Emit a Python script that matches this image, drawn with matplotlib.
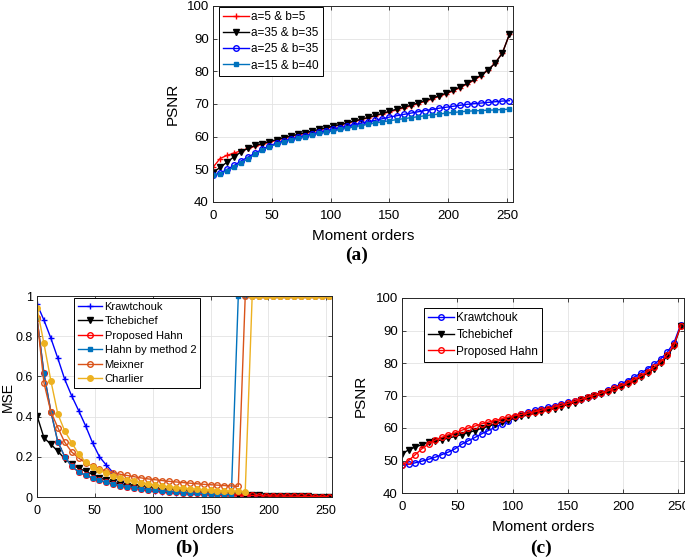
import matplotlib
matplotlib.use("Agg")
import matplotlib.pyplot as plt

plt.rcParams['font.family'] = ['Liberation Sans', 'DejaVu Sans']

# ---------------- data ----------------
orders = list(range(0, 253, 6))

# (a) PSNR for different Hahn parameters
psnr_a5_b5 = [50.6, 53.3, 54.3, 55.0, 55.7, 56.4, 57.1, 57.7, 58.3, 58.9, 59.5, 60.0, 60.5, 61.0, 61.5,
              62.0, 62.6, 63.1, 63.6, 64.1, 64.7, 65.2, 65.8, 66.4, 67.0, 67.6, 68.2, 68.8, 69.4, 70.1,
              70.8, 71.5, 72.3, 73.1, 74.0, 75.0, 76.1, 77.3, 78.7, 80.4, 82.6, 85.7, 91.3]
psnr_a35_b35 = [49.0, 50.6, 52.2, 53.9, 55.3, 56.5, 57.3, 57.9, 58.5, 59.1, 59.7, 60.2, 60.7, 61.2, 61.7,
                62.2, 62.7, 63.2, 63.7, 64.2, 64.8, 65.3, 65.9, 66.5, 67.1, 67.8, 68.4, 69.0, 69.6, 70.3,
                71.0, 71.7, 72.5, 73.3, 74.2, 75.2, 76.3, 77.5, 78.9, 80.5, 82.6, 85.6, 91.4]
psnr_a25_b35 = [48.2, 48.8, 50.0, 51.2, 52.6, 53.8, 55.0, 56.2, 57.2, 58.0, 58.7, 59.3, 59.8, 60.3, 60.8,
                61.3, 61.8, 62.3, 62.8, 63.2, 63.7, 64.1, 64.6, 65.0, 65.5, 66.0, 66.4, 66.8, 67.2, 67.6,
                68.0, 68.3, 68.7, 69.0, 69.3, 69.6, 69.9, 70.1, 70.3, 70.5, 70.7, 70.9, 71.0]
psnr_a15_b40 = [48.2, 48.6, 49.6, 50.7, 52.0, 53.3, 54.6, 55.9, 56.9, 57.7, 58.4, 59.0, 59.5, 60.0, 60.5,
                61.0, 61.4, 61.8, 62.2, 62.6, 63.0, 63.4, 63.8, 64.2, 64.5, 64.9, 65.2, 65.5, 65.8, 66.1,
                66.4, 66.7, 66.9, 67.2, 67.4, 67.6, 67.8, 67.9, 68.0, 68.1, 68.2, 68.3, 68.4]
labels_a = ["a=5 & b=5", "a=35 & b=35", "a=25 & b=35", "a=15 & b=40"]

# (b) MSE
mse_krawtchouk = [0.96, 0.88, 0.79, 0.69, 0.585, 0.503, 0.43, 0.354, 0.27, 0.2, 0.158, 0.12, 0.083, 0.058,
                  0.046, 0.038, 0.033, 0.029, 0.026, 0.023, 0.021, 0.019, 0.017, 0.015, 0.014, 0.012, 0.011,
                  0.010, 0.009, 0.008, 0.007, 0.006, 0.006, 0.005, 0.005, 0.004, 0.004, 0.003, 0.003, 0.003,
                  0.002, 0.002, 0.001]
mse_tchebichef = [0.405, 0.295, 0.262, 0.228, 0.19, 0.163, 0.143, 0.128, 0.112, 0.097, 0.084, 0.073, 0.064,
                  0.056, 0.05, 0.044, 0.039, 0.035, 0.031, 0.028, 0.025, 0.023, 0.021, 0.019, 0.017, 0.015,
                  0.014, 0.013, 0.012, 0.011, 0.010, 0.009, 0.008, 0.007, 0.006, 0.005, 0.005, 0.004, 0.004,
                  0.003, 0.002, 0.002, 0.001]
mse_proposed = [0.89, 0.615, 0.425, 0.274, 0.2, 0.152, 0.125, 0.108, 0.095, 0.083, 0.073, 0.064, 0.057, 0.051,
                0.046, 0.041, 0.037, 0.033, 0.030, 0.027, 0.025, 0.022, 0.020, 0.018, 0.017, 0.015, 0.014,
                0.012, 0.011, 0.010, 0.009, 0.008, 0.007, 0.006, 0.005, 0.005, 0.004, 0.004, 0.003, 0.003,
                0.002, 0.002, 0.001]
mse_hahn2 = [0.89, 0.615, 0.425, 0.274, 0.2, 0.152, 0.125, 0.108, 0.095, 0.083, 0.073, 0.064, 0.057, 0.051,
             0.046, 0.041, 0.037, 0.033, 0.030, 0.027, 0.025, 0.022, 0.020, 0.018, 0.017, 0.015, 0.014,
             0.012, 0.011, 1.0, 1.0, 1.0, 1.0, 1.0, 1.0, 1.0, 1.0, 1.0, 1.0, 1.0,
             1.0, 1.0, 1.0]
mse_meixner = [0.89, 0.568, 0.424, 0.345, 0.272, 0.224, 0.194, 0.17, 0.153, 0.14, 0.13, 0.121, 0.113, 0.107,
               0.101, 0.095, 0.09, 0.086, 0.082, 0.078, 0.075, 0.072, 0.069, 0.066, 0.063, 0.061, 0.059,
               0.057, 0.055, 0.053, 1.0, 1.0, 1.0, 1.0, 1.0, 1.0, 1.0, 1.0, 1.0, 1.0,
               1.0, 1.0, 1.0]
mse_charlier = [0.94, 0.764, 0.578, 0.413, 0.328, 0.27, 0.214, 0.174, 0.15, 0.132, 0.118, 0.106, 0.096, 0.087,
                0.079, 0.072, 0.066, 0.06, 0.055, 0.051, 0.047, 0.044, 0.041, 0.038, 0.036, 0.034, 0.032,
                0.030, 0.029, 0.028, 0.027, 1.0, 1.0, 1.0, 1.0, 1.0, 1.0, 1.0, 1.0, 1.0,
                1.0, 1.0, 1.0]
labels_b = ["Krawtchouk", "Tchebichef", "Proposed Hahn", "Hahn by method 2", "Meixner", "Charlier"]

# (c) PSNR comparison
psnr_krawtchouk = [48.5, 48.8, 49.3, 49.8, 50.4, 51.0, 51.8, 52.6, 53.6, 55.0, 56.1, 57.1, 58.2, 59.2, 60.2,
                   61.2, 62.2, 63.3, 64.3, 64.9, 65.4, 65.9, 66.4, 66.9, 67.4, 67.9, 68.4, 69.0, 69.6, 70.2,
                   70.9, 71.7, 72.5, 73.5, 74.6, 75.7, 76.9, 78.2, 79.6, 81.3, 83.4, 86.3, 91.8]
psnr_tchebichef = [52.0, 53.3, 54.1, 54.9, 55.6, 55.9, 56.4, 56.9, 57.4, 58.0, 58.6, 59.2, 59.9, 60.5, 61.2,
                   61.8, 62.4, 63.0, 63.6, 64.0, 64.5, 65.0, 65.5, 66.0, 66.6, 67.2, 67.8, 68.5, 69.2, 69.8,
                   70.4, 71.1, 71.8, 72.6, 73.5, 74.5, 75.6, 76.9, 78.3, 80.0, 82.1, 85.3, 91.3]
psnr_proposed = [48.5, 50.0, 51.8, 53.6, 55.1, 56.3, 57.1, 57.9, 58.5, 59.3, 60.0, 60.6, 61.3, 61.8, 62.3,
                 62.8, 63.3, 63.8, 64.2, 64.6, 65.0, 65.5, 66.0, 66.5, 67.0, 67.6, 68.2, 68.8, 69.5, 70.1,
                 70.7, 71.4, 72.2, 73.0, 73.9, 74.9, 76.0, 77.3, 78.7, 80.4, 82.5, 85.6, 91.4]
labels_c = ["Krawtchouk", "Tchebichef", "Proposed Hahn"]

xticks = [0, 50, 100, 150, 200, 250]

# ---------------- figure ----------------
W, H = 685, 557
fig = plt.figure(figsize=(W / 100, H / 100), dpi=100)


def box(l, t, r, b):
    return [l / W, 1 - b / H, (r - l) / W, (b - t) / H]


def style(ax, fs):
    ax.set_xlim(0, 255)
    ax.set_xticks(xticks)
    ax.grid(True, color='#e3e3e3', linewidth=0.6)
    ax.set_axisbelow(True)
    ax.tick_params(direction='in', top=True, right=True, length=3, width=0.6,
                   labelsize=fs, colors='#262626', labelcolor='black', pad=3)
    ax.tick_params(axis='x', pad=6)
    for s in ax.spines.values():
        s.set_color('#262626')
        s.set_linewidth(0.7)


def leg(ax, x, y, fs, spacing):
    lg = ax.legend(loc='upper left', bbox_to_anchor=(x / W, 1 - y / H),
                   bbox_transform=fig.transFigure, borderaxespad=0, fontsize=fs,
                   fancybox=False, framealpha=1, edgecolor='black', handlelength=2.2,
                   handletextpad=0.2, labelspacing=spacing, borderpad=0.35)
    lg.get_frame().set_linewidth(0.7)
    return lg


lw = 1.0
# ----- (a) -----
axa = fig.add_axes(box(213, 6, 513, 202))
axa.plot(orders, psnr_a5_b5, color='#ff0000', marker='+', ms=4, lw=lw, label=labels_a[0])
axa.plot(orders, psnr_a35_b35, color='black', marker='v', ms=4, mfc='black', lw=lw, label=labels_a[1])
axa.plot(orders, psnr_a25_b35, color='#0000ff', marker='o', ms=4, mfc='none', mew=1.0, lw=lw, label=labels_a[2])
axa.plot(orders, psnr_a15_b40, color='#0072bd', marker='s', ms=3, mfc='#0072bd', lw=lw, label=labels_a[3])
style(axa, 9.5)
axa.set_ylim(40, 100)
axa.set_yticks(range(40, 101, 10))
axa.set_xlabel("Moment orders", fontsize=11, labelpad=5)
axa.set_ylabel("PSNR", fontsize=11, labelpad=5)
leg(axa, 219, 7, 8.5, 0.35)
fig.text(357 / W, 1 - 255 / H, "(a)", ha='center', va='center', fontsize=14,
         fontweight='bold', family='Liberation Serif')

# ----- (b) -----
axb = fig.add_axes(box(37, 296, 332, 497))
axb.plot(orders, mse_krawtchouk, color='#0000ff', marker='+', ms=4, lw=lw, label=labels_b[0])
axb.plot(orders, mse_tchebichef, color='black', marker='v', ms=4, mfc='black', lw=lw, label=labels_b[1])
axb.plot(orders, mse_proposed, color='#ff0000', marker='o', ms=4, mfc='none', mew=1.0, lw=lw, label=labels_b[2])
axb.plot(orders, mse_hahn2, color='#0072bd', marker='s', ms=3, mfc='#0072bd', lw=lw, label=labels_b[3])
axb.plot(orders, mse_meixner, color='#d95319', marker='o', ms=4, mfc='none', mew=1.0, lw=lw, label=labels_b[4])
axb.plot(orders, mse_charlier, color='#edb120', marker='o', ms=4, mfc='#edb120', lw=lw, label=labels_b[5])
style(axb, 9)
axb.set_ylim(0, 1)
axb.set_yticks([0, 0.2, 0.4, 0.6, 0.8, 1])
axb.set_yticklabels(["0", "0.2", "0.4", "0.6", "0.8", "1"])
axb.set_xlabel("Moment orders", fontsize=10.5, labelpad=4)
axb.set_ylabel("MSE", fontsize=10, labelpad=0.5)
leg(axb, 74, 298, 8, 0.4)
fig.text(187.5 / W, 1 - 548 / H, "(b)", ha='center', va='center', fontsize=14,
         fontweight='bold', family='Liberation Serif')

# ----- (c) -----
axc = fig.add_axes(box(402, 298, 684, 493))
axc.plot(orders, psnr_krawtchouk, color='#0000ff', marker='o', ms=4, mfc='none', mew=1.0, lw=lw, label=labels_c[0])
axc.plot(orders, psnr_tchebichef, color='black', marker='v', ms=4, mfc='black', lw=lw, label=labels_c[1])
axc.plot(orders, psnr_proposed, color='#ff0000', marker='o', ms=4, mfc='none', mew=1.0, lw=lw, label=labels_c[2])
style(axc, 9.5)
axc.set_ylim(40, 100)
axc.set_yticks(range(40, 101, 10))
axc.set_xlabel("Moment orders", fontsize=11, labelpad=5)
axc.set_ylabel("PSNR", fontsize=11, labelpad=6)
leg(axc, 424, 308, 8.5, 0.4)
fig.text(541 / W, 1 - 548 / H, "(c)", ha='center', va='center', fontsize=14,
         fontweight='bold', family='Liberation Serif')

fig.savefig("out.png", dpi=100)
